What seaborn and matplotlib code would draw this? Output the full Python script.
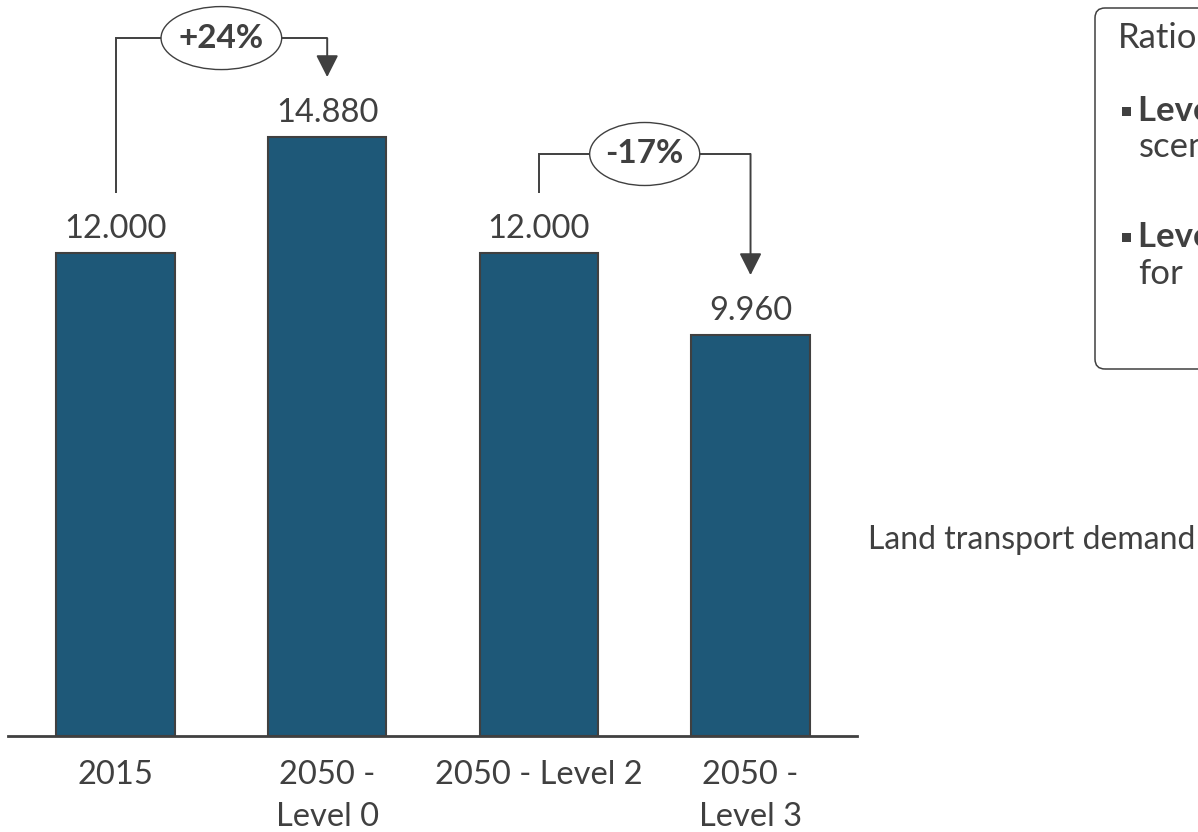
import matplotlib
matplotlib.use("Agg")
import matplotlib.pyplot as plt
import seaborn as sns
import pandas as pd
from matplotlib.patches import Ellipse, FancyBboxPatch, Rectangle

# ---- data ----
categories = ["2015", "2050 - Level 0", "2050 - Level 2", "2050 - Level 3"]
tick_labels = ["2015", "2050 -\nLevel 0", "2050 - Level 2", "2050 -\nLevel 3"]
values = [12000, 14880, 12000, 9960]
value_labels = ["12.000", "14.880", "12.000", "9.960"]
change_labels = ["+24%", "-17%"]
change_from = [0, 2]
change_to = [1, 3]
box_title = "Rationale"
box_bullets = [("Level 0:", "scenario"), ("Level 3:", "for")]
side_label = "Land transport demand"

# ---- style ----
BAR = "#1E5878"
DARK = "#404040"
W, H = 1198, 832

sns.set_theme(style="white")
plt.rcParams["font.family"] = ["Lato", "DejaVu Sans"]

fig = plt.figure(figsize=(W / 100, H / 100), dpi=100)
ax = fig.add_axes([8 / W, 96 / H, 849 / W, 736 / H])

df = pd.DataFrame({"cat": categories, "val": values})
sns.barplot(data=df, x="cat", y="val", color=BAR, saturation=1, width=0.56,
            edgecolor=DARK, linewidth=1.5, ax=ax)

ax.set_xlim(-0.508, 3.503)
ax.set_ylim(0, 18286)
for s in ["left", "top", "right"]:
    ax.spines[s].set_visible(False)
ax.spines["bottom"].set_color(DARK)
ax.spines["bottom"].set_linewidth(2)
ax.set_yticks([])
ax.set_xticks(range(len(categories)))
ax.set_xticklabels(tick_labels, fontsize=23.5, color=DARK, linespacing=1.5)
ax.tick_params(axis="x", length=0, pad=17)
ax.set_xlabel("")
ax.set_ylabel("")
ax.patch.set_alpha(0)

# px -> data scale (y)
ypx = 736 / 18286.0  # px per data unit

for i, (v, lab) in enumerate(zip(values, value_labels)):
    ax.text(i, v + 15 / ypx, lab, ha="center", va="baseline", fontsize=23.5, color=DARK)

gap = 60 / ypx
rise = 2460
ell_w = [0.57, 0.52]
ell_h = 63 / ypx
for k, lab in enumerate(change_labels):
    i, j = change_from[k], change_to[k]
    top = max(values[i], values[j]) + rise
    ax.plot([i, i, j], [values[i] + gap, top, top], color=DARK, lw=1.4,
            solid_joinstyle="miter", solid_capstyle="butt", zorder=3)
    ax.annotate("", xy=(j, values[j] + gap), xytext=(j, top),
                arrowprops=dict(arrowstyle="-|>,head_length=0.75,head_width=0.38",
                                mutation_scale=18, color=DARK, lw=1.4,
                                shrinkA=0, shrinkB=0), zorder=3)
    xm = (i + j) / 2
    ax.add_patch(Ellipse((xm, top), ell_w[k], ell_h, facecolor="white",
                         edgecolor=DARK, lw=1.0, zorder=4, clip_on=False))
    ax.text(xm, top, lab, ha="center", va="center", fontsize=24,
            fontweight="bold", color=DARK, zorder=5)

# ---- side box (in inches, origin bottom-left) ----
t = fig.dpi_scale_trans
def iy(p):
    return (H - p) / 100

box = FancyBboxPatch((10.95, iy(369)), 1.6, (369 - 8) / 100,
                     boxstyle="round,pad=0,rounding_size=0.1",
                     transform=t, facecolor="none", edgecolor=DARK, lw=1.1)
fig.patches.append(box)
fig.text(11.18, iy(38), box_title, transform=t, ha="left", va="center",
         fontsize=25, color=DARK)
rows = [(111, 147), (237, 274)]
for (bold, rest), (y1, y2) in zip(box_bullets, rows):
    fig.patches.append(Rectangle((11.22, iy(y1) - 0.045), 0.09, 0.09,
                                 transform=t, facecolor=DARK, edgecolor="none"))
    fig.text(11.385, iy(y1), bold, transform=t, ha="left", va="center",
             fontsize=25, fontweight="bold", color=DARK)
    fig.text(11.385, iy(y2), rest, transform=t, ha="left", va="center",
             fontsize=25, color=DARK)

fig.text(11.95, iy(540), side_label, transform=t, ha="right", va="center",
         fontsize=23, color=DARK)

fig.savefig("out.png", dpi=100)
